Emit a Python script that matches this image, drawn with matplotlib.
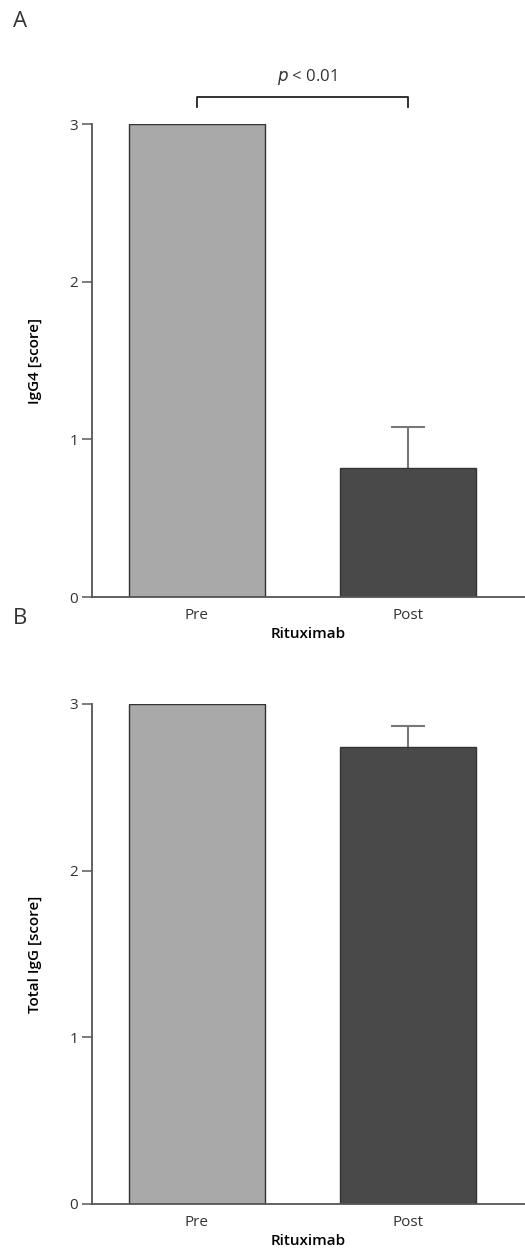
import matplotlib
matplotlib.use("Agg")
import matplotlib.pyplot as plt

plt.rcParams['font.family'] = ['Open Sans', 'DejaVu Sans']

# data
groups = ["Pre", "Post"]
igg4_means = [3.0, 0.82]
igg4_err = [0.0, 0.26]
total_means = [3.0, 2.74]
total_err = [0.0, 0.13]
bar_colors = ["#a9a9a9", "#494949"]
yticks = [0, 1, 2, 3]


def draw_panel(ax, means, errs, ylabel):
    x = list(range(len(groups)))
    ax.bar(x, means, width=0.643, color=bar_colors, edgecolor="#333333",
           linewidth=1.0, zorder=2)
    for xi, m, e in zip(x, means, errs):
        if e > 0:
            eb = ax.errorbar(xi, m, yerr=[[0], [e]], fmt="none", ecolor="#777777",
                             elinewidth=1.5, capsize=12, capthick=1.5, zorder=1)
            # only keep the upper cap
            for cap in eb[1]:
                if abs(cap.get_ydata()[0] - m) < 1e-9:
                    cap.set_visible(False)
    ax.set_xlim(-0.496, 1.551)
    ax.set_ylim(0, 3)
    ax.set_yticks(yticks)
    ax.set_xticks(x)
    ax.set_xticklabels(groups)
    ax.tick_params(axis="x", length=0, pad=8, labelsize=11, colors="#333333")
    ax.tick_params(axis="y", length=7, width=1.2, color="#666666",
                   labelsize=11, labelcolor="#333333", pad=3)
    for s in ["top", "right"]:
        ax.spines[s].set_visible(False)
    for s in ["left", "bottom"]:
        ax.spines[s].set_color("#555555")
        ax.spines[s].set_linewidth(1.3)
    ax.set_xlabel("Rituximab", fontweight="semibold", fontsize=11, labelpad=3)
    ax.set_ylabel(ylabel, fontweight="semibold", fontsize=11, labelpad=20)


fig = plt.figure(figsize=(5.25, 12.54), dpi=100)
axA = fig.add_axes([0.1752, 0.5239, 0.8248, 0.3772])
axB = fig.add_axes([0.1752, 0.0399, 0.8248, 0.3987])

draw_panel(axA, igg4_means, igg4_err, "IgG4 [score]")
draw_panel(axB, total_means, total_err, "Total IgG [score]")

# significance bracket in panel A
axA.plot([0, 0, 1, 1], [3.11, 3.17, 3.17, 3.11], color="#222222",
         linewidth=1.3, clip_on=False)
axA.text(0.52, 3.235, r"$\it{p}$ < 0.01", ha="center", va="bottom",
         fontsize=12, color="#333333", clip_on=False)

fig.text(0.024, 0.983, "A", fontsize=16, color="#333333", va="center")
fig.text(0.024, 0.507, "B", fontsize=16, color="#333333", va="center")

fig.savefig("out.png", dpi=100)
